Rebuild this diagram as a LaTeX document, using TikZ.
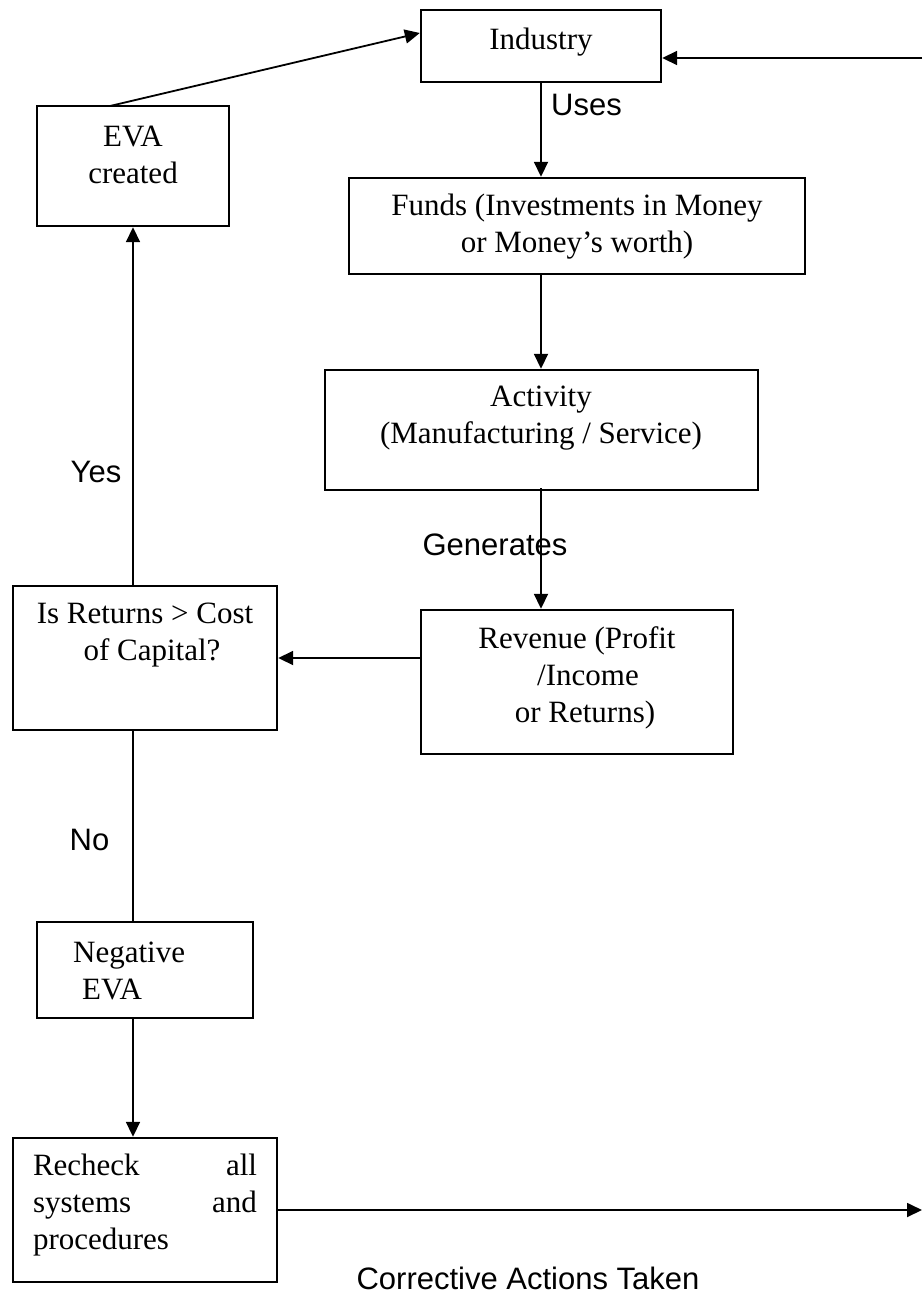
\documentclass[tikz,border=0pt]{standalone}
\usepackage{fontspec}
\setmainfont{Liberation Serif}
\newfontfamily\lsans{Liberation Sans}
\usetikzlibrary{arrows.meta,calc}
\tikzset{
  boxnode/.style={draw, line width=2.4pt, inner sep=0pt},
  serifnode/.style={inner sep=0pt, font=\fontsize{31}{37}\selectfont, align=center},
  sansnode/.style={inner sep=0pt, font=\lsans\fontsize{31}{37}\selectfont},
  conn/.style={line width=1.8pt, -{Triangle[length=15pt,width=14pt]}},
  plainline/.style={line width=1.8pt}
}
\newcommand{\boxat}[5]{\node[boxnode, minimum width={#4-#2}, minimum height={#5-#3}] (#1) at ({(#2+#4)/2},{(#3+#5)/2}) {};}
\begin{document}
\begin{tikzpicture}[x=1pt,y=-1pt]
\useasboundingbox (0,0) rectangle (922,1299);
% boxes
\node[boxnode, minimum width=240pt, minimum height=72pt] (industry) at (541,46) {};
\node[boxnode, minimum width=192pt, minimum height=120pt] (eva) at (133,166) {};
\node[boxnode, minimum width=456pt, minimum height=96pt] (funds) at (577,226) {};
\node[boxnode, minimum width=433pt, minimum height=120pt] (activity) at (541.5,430) {};
\node[boxnode, minimum width=312pt, minimum height=144pt] (revenue) at (577,682) {};
\node[boxnode, minimum width=264pt, minimum height=144pt] (decision) at (145,658) {};
\node[boxnode, minimum width=216pt, minimum height=96pt] (negeva) at (145,970) {};
\node[boxnode, minimum width=264pt, minimum height=144pt] (recheck) at (145,1210) {};
% texts
\node[serifnode] (tindustry) at (541,42) {Industry};
\node[serifnode] (teva) at (133,155) {EVA\\created};
\node[serifnode] (tfunds) at (577,227) {Funds (Investments in Money\\or Money’s worth)};
\node[serifnode] (tactivity) at (541,418) {Activity\\(Manufacturing / Service)};
\node[serifnode] (trevenue) at (577,678) {Revenue (Profit\\\hspace*{22pt}/Income\\\hspace*{16pt}or Returns)};
\node[serifnode] (tdecision) at (145,635) {Is Returns > Cost\\\hspace*{14pt}of Capital?};
\node[serifnode, align=left, anchor=west] (tnegeva) at (73,971) {Negative\\\hspace*{9pt}EVA};
\node[serifnode, align=left] (trecheck) at (145,1205) {\makebox[224pt][s]{Recheck\hfill all}\\\makebox[224pt][s]{systems\hfill and}\\\makebox[224pt][l]{procedures}};
% labels
\node[sansnode, anchor=west] (luses) at (551,105) {Uses};
\node[sansnode] (lgen) at (495,545) {Generates};
\node[sansnode] (lyes) at (96,472) {Yes};
\node[sansnode] (lno) at (89.5,840) {No};
\node[sansnode] (lcorr) at (528,1278) {Corrective Actions Taken};
% coordinates
\coordinate (evaout) at (110,106);
\coordinate (topright) at (922,58);
\coordinate (rightend) at (922,1210);
% connectors
\draw[conn] (evaout) -- ([yshift=13pt]industry.west);
\draw[conn] (topright) -- (topright -| industry.east);
\draw[conn] (industry.south) -- (industry.south |- funds.north);
\draw[conn] (funds.south -| industry.south) -- (activity.north -| industry.south);
\draw[conn] ([yshift=3pt]activity.south -| industry.south) -- (revenue.north -| industry.south);
\draw[conn] (revenue.west |- decision.east) -- (decision.east);
\draw[conn] (decision.north -| eva.south) -- (eva.south);
\draw[plainline] (decision.south -| eva.south) -- (negeva.north -| eva.south);
\draw[conn] (negeva.south -| eva.south) -- (recheck.north -| eva.south);
\draw[conn] (recheck.east) -- (rightend);
\end{tikzpicture}
\end{document}
